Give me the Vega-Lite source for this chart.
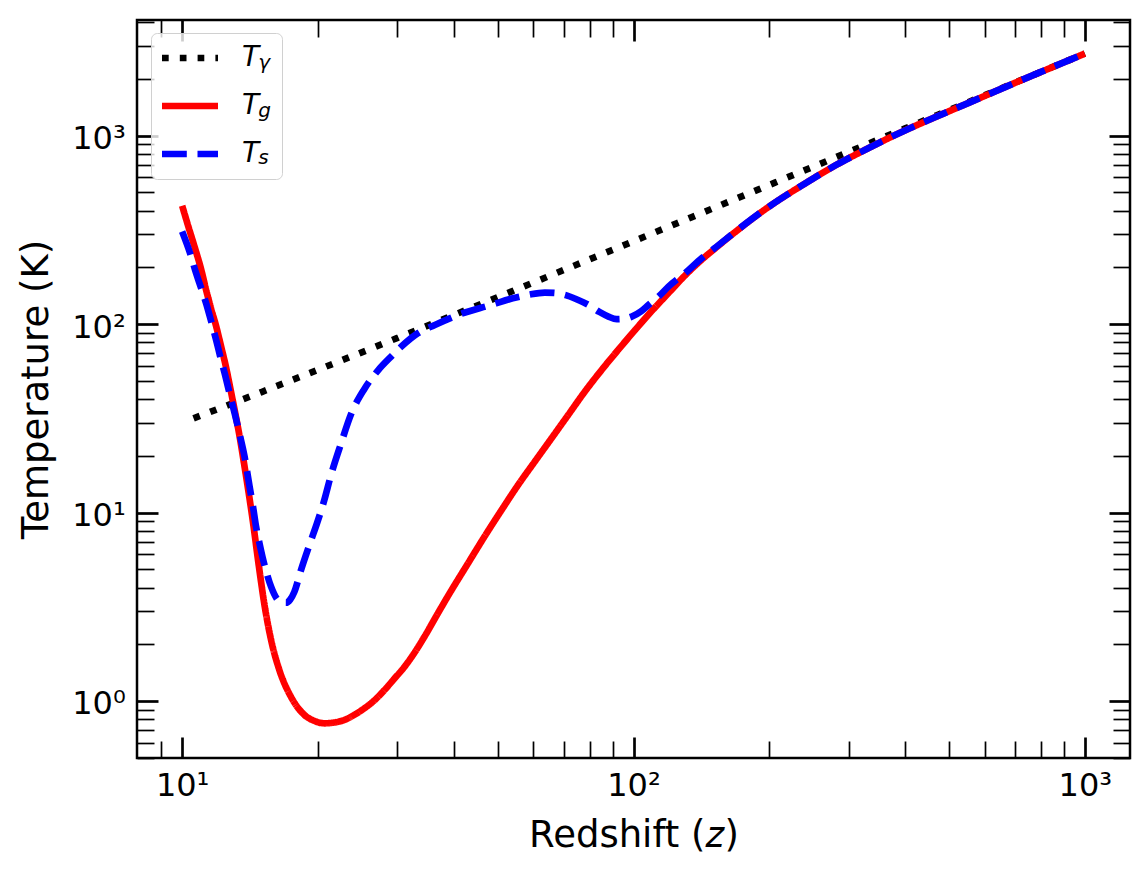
{
  "$schema": "https://vega.github.io/schema/vega-lite/v6.json",
  "width": 993,
  "height": 738,
  "autosize": {"type": "none"},
  "padding": {"left": 137, "top": 20, "right": 18, "bottom": 115},
  "background": "white",
  "config": {
    "view": {"stroke": "black", "strokeWidth": 2.5},
    "font": "DejaVu Sans",
    "axis": {"domain": false, "grid": false, "tickColor": "black", "labelColor": "black", "titleColor": "black", "labelFont": "DejaVu Sans", "titleFont": "DejaVu Sans", "labelFlush": false, "labelOverlap": false, "titleFontWeight": "normal"}
  },
  "datasets": {
    "tgamma": [
      {"z": 10.6, "T": 31.61, "series": "Tγ", "sub": "γ"},
      {"z": 12, "T": 35.43, "series": "Tγ", "sub": "γ"},
      {"z": 15, "T": 43.6, "series": "Tγ", "sub": "γ"},
      {"z": 20, "T": 57.23, "series": "Tγ", "sub": "γ"},
      {"z": 25, "T": 70.85, "series": "Tγ", "sub": "γ"},
      {"z": 30, "T": 84.48, "series": "Tγ", "sub": "γ"},
      {"z": 40, "T": 111.73, "series": "Tγ", "sub": "γ"},
      {"z": 50, "T": 138.98, "series": "Tγ", "sub": "γ"},
      {"z": 70, "T": 193.48, "series": "Tγ", "sub": "γ"},
      {"z": 100, "T": 275.23, "series": "Tγ", "sub": "γ"},
      {"z": 150, "T": 411.48, "series": "Tγ", "sub": "γ"},
      {"z": 200, "T": 547.73, "series": "Tγ", "sub": "γ"},
      {"z": 300, "T": 820.23, "series": "Tγ", "sub": "γ"},
      {"z": 400, "T": 1092.73, "series": "Tγ", "sub": "γ"},
      {"z": 500, "T": 1365.23, "series": "Tγ", "sub": "γ"},
      {"z": 700, "T": 1910.23, "series": "Tγ", "sub": "γ"},
      {"z": 1000, "T": 2727.73, "series": "Tγ", "sub": "γ"}
    ],
    "tg": [
      {"z": 10, "T": 425, "series": "Tg"},
      {"z": 10.3, "T": 335, "series": "Tg"},
      {"z": 10.65, "T": 258, "series": "Tg"},
      {"z": 11, "T": 198, "series": "Tg"},
      {"z": 11.3, "T": 152, "series": "Tg"},
      {"z": 11.6, "T": 120, "series": "Tg"},
      {"z": 11.9, "T": 97, "series": "Tg"},
      {"z": 12.2, "T": 76, "series": "Tg"},
      {"z": 12.5, "T": 59.5, "series": "Tg"},
      {"z": 12.8, "T": 45, "series": "Tg"},
      {"z": 13.07, "T": 35, "series": "Tg"},
      {"z": 13.4, "T": 25.5, "series": "Tg"},
      {"z": 13.75, "T": 17.5, "series": "Tg"},
      {"z": 14.05, "T": 12.6, "series": "Tg"},
      {"z": 14.33, "T": 9.14, "series": "Tg"},
      {"z": 14.83, "T": 4.96, "series": "Tg"},
      {"z": 15.2, "T": 3.3, "series": "Tg"},
      {"z": 15.74, "T": 2.11, "series": "Tg"},
      {"z": 16.42, "T": 1.46, "series": "Tg"},
      {"z": 17.43, "T": 1.05, "series": "Tg"},
      {"z": 18.66, "T": 0.843, "series": "Tg"},
      {"z": 19.6, "T": 0.785, "series": "Tg"},
      {"z": 20.66, "T": 0.761, "series": "Tg"},
      {"z": 21.7, "T": 0.768, "series": "Tg"},
      {"z": 22.89, "T": 0.793, "series": "Tg"},
      {"z": 24.1, "T": 0.845, "series": "Tg"},
      {"z": 25.35, "T": 0.915, "series": "Tg"},
      {"z": 26.7, "T": 1.01, "series": "Tg"},
      {"z": 28.08, "T": 1.144, "series": "Tg"},
      {"z": 29.5, "T": 1.31, "series": "Tg"},
      {"z": 31.1, "T": 1.52, "series": "Tg"},
      {"z": 32.7, "T": 1.8, "series": "Tg"},
      {"z": 34.45, "T": 2.2, "series": "Tg"},
      {"z": 36.5, "T": 2.8, "series": "Tg"},
      {"z": 38.8, "T": 3.6, "series": "Tg"},
      {"z": 43, "T": 5.38, "series": "Tg"},
      {"z": 47, "T": 7.6, "series": "Tg"},
      {"z": 51, "T": 10.3, "series": "Tg"},
      {"z": 55.5, "T": 14, "series": "Tg"},
      {"z": 60.4, "T": 18.6, "series": "Tg"},
      {"z": 66, "T": 25, "series": "Tg"},
      {"z": 71.7, "T": 33, "series": "Tg"},
      {"z": 78, "T": 43.8, "series": "Tg"},
      {"z": 85, "T": 57.1, "series": "Tg"},
      {"z": 92.5, "T": 73, "series": "Tg"},
      {"z": 100.8, "T": 93, "series": "Tg"},
      {"z": 110, "T": 118, "series": "Tg"},
      {"z": 119.5, "T": 146, "series": "Tg"},
      {"z": 130, "T": 181, "series": "Tg"},
      {"z": 141.7, "T": 220, "series": "Tg"},
      {"z": 151, "T": 250, "series": "Tg"},
      {"z": 168, "T": 308, "series": "Tg"},
      {"z": 199, "T": 418, "series": "Tg"},
      {"z": 236, "T": 544, "series": "Tg"},
      {"z": 280, "T": 695, "series": "Tg"},
      {"z": 332, "T": 860, "series": "Tg"},
      {"z": 394, "T": 1050, "series": "Tg"},
      {"z": 460, "T": 1237, "series": "Tg"},
      {"z": 553, "T": 1494, "series": "Tg"},
      {"z": 700, "T": 1906, "series": "Tg"},
      {"z": 850, "T": 2317, "series": "Tg"},
      {"z": 1000, "T": 2727, "series": "Tg"}
    ],
    "ts": [
      {"z": 10, "T": 310, "series": "Ts"},
      {"z": 10.4, "T": 240, "series": "Ts"},
      {"z": 10.74, "T": 186, "series": "Ts"},
      {"z": 11, "T": 157, "series": "Ts"},
      {"z": 11.3, "T": 129, "series": "Ts"},
      {"z": 11.6, "T": 103, "series": "Ts"},
      {"z": 11.9, "T": 82, "series": "Ts"},
      {"z": 12.15, "T": 67, "series": "Ts"},
      {"z": 12.42, "T": 54.9, "series": "Ts"},
      {"z": 12.75, "T": 42.5, "series": "Ts"},
      {"z": 13.07, "T": 33.7, "series": "Ts"},
      {"z": 13.4, "T": 26.2, "series": "Ts"},
      {"z": 13.75, "T": 19.8, "series": "Ts"},
      {"z": 14.1, "T": 13.8, "series": "Ts"},
      {"z": 14.35, "T": 10.8, "series": "Ts"},
      {"z": 14.58, "T": 8.42, "series": "Ts"},
      {"z": 14.83, "T": 6.9, "series": "Ts"},
      {"z": 15.09, "T": 5.72, "series": "Ts"},
      {"z": 15.4, "T": 4.75, "series": "Ts"},
      {"z": 15.74, "T": 4.04, "series": "Ts"},
      {"z": 16.28, "T": 3.44, "series": "Ts"},
      {"z": 16.6, "T": 3.33, "series": "Ts"},
      {"z": 17, "T": 3.32, "series": "Ts"},
      {"z": 17.35, "T": 3.45, "series": "Ts"},
      {"z": 17.73, "T": 3.8, "series": "Ts"},
      {"z": 18.34, "T": 4.96, "series": "Ts"},
      {"z": 19.14, "T": 6.73, "series": "Ts"},
      {"z": 19.9, "T": 8.78, "series": "Ts"},
      {"z": 20.6, "T": 11.4, "series": "Ts"},
      {"z": 21.4, "T": 16, "series": "Ts"},
      {"z": 22.5, "T": 23.3, "series": "Ts"},
      {"z": 23.7, "T": 33.5, "series": "Ts"},
      {"z": 25.3, "T": 45, "series": "Ts"},
      {"z": 27.2, "T": 57, "series": "Ts"},
      {"z": 29, "T": 67, "series": "Ts"},
      {"z": 30.6, "T": 76, "series": "Ts"},
      {"z": 33.3, "T": 89.5, "series": "Ts"},
      {"z": 36.3, "T": 99, "series": "Ts"},
      {"z": 40.9, "T": 111.9, "series": "Ts"},
      {"z": 48.4, "T": 126.5, "series": "Ts"},
      {"z": 54, "T": 137, "series": "Ts"},
      {"z": 58.4, "T": 142.9, "series": "Ts"},
      {"z": 63.6, "T": 147, "series": "Ts"},
      {"z": 67.5, "T": 146, "series": "Ts"},
      {"z": 70.5, "T": 142.9, "series": "Ts"},
      {"z": 75, "T": 135, "series": "Ts"},
      {"z": 79.4, "T": 126.5, "series": "Ts"},
      {"z": 84, "T": 116, "series": "Ts"},
      {"z": 88, "T": 109.6, "series": "Ts"},
      {"z": 91.8, "T": 106.2, "series": "Ts"},
      {"z": 95.5, "T": 106.8, "series": "Ts"},
      {"z": 99.1, "T": 109.6, "series": "Ts"},
      {"z": 104, "T": 117, "series": "Ts"},
      {"z": 108, "T": 126.5, "series": "Ts"},
      {"z": 114, "T": 141, "series": "Ts"},
      {"z": 119.5, "T": 158, "series": "Ts"},
      {"z": 130, "T": 186, "series": "Ts"},
      {"z": 141.7, "T": 224, "series": "Ts"},
      {"z": 151, "T": 252, "series": "Ts"},
      {"z": 168, "T": 309, "series": "Ts"},
      {"z": 199, "T": 418, "series": "Ts"},
      {"z": 236, "T": 544, "series": "Ts"},
      {"z": 280, "T": 695, "series": "Ts"},
      {"z": 332, "T": 860, "series": "Ts"},
      {"z": 394, "T": 1050, "series": "Ts"},
      {"z": 460, "T": 1237, "series": "Ts"},
      {"z": 553, "T": 1494, "series": "Ts"},
      {"z": 700, "T": 1906, "series": "Ts"},
      {"z": 850, "T": 2317, "series": "Ts"},
      {"z": 1000, "T": 2727, "series": "Ts"}
    ]
  },
  "layer": [
    {
      "data": {"name": "tgamma"},
      "mark": {"type": "line", "strokeWidth": 6.7, "strokeCap": "butt", "strokeJoin": "round", "interpolate": "monotone"},
      "encoding": {
        "x": {"field": "z", "type": "quantitative", "scale": {"type": "log", "domain": [7.943, 1258.9], "nice": false, "zero": false},
          "axis": {"orient": "bottom", "values": [10, 100, 1000], "tickSize": -21, "tickWidth": 2.7, "labelFontSize": 32, "labelPadding": 33,
            "labelExpr": "datum.value == 10 ? '10¹' : datum.value == 100 ? '10²' : '10³'",
            "title": "Redshift (𝑧)", "titleFontSize": 37, "titleX": 496.5, "titleY": 88, "titleBaseline": "alphabetic", "titleAlign": "center"}},
        "y": {"field": "T", "type": "quantitative", "scale": {"type": "log", "domain": [0.498, 4110], "nice": false, "zero": false},
          "axis": {"orient": "left", "values": [1, 10, 100, 1000], "tickSize": -21, "tickWidth": 2.7, "labelFontSize": 32, "labelPadding": 32.7, "labelOffset": 3,
            "labelExpr": "datum.value == 1 ? '10⁰' : datum.value == 10 ? '10¹' : datum.value == 100 ? '10²' : '10³'",
            "title": "Temperature (K)", "titleFontSize": 37, "titleAngle": 270, "titleX": -90, "titleY": 369, "titleBaseline": "alphabetic", "titleAlign": "center"}},
        "color": {"field": "series", "type": "nominal", "scale": {"domain": ["Tγ", "Tg", "Ts"], "range": ["black", "#ff0000", "#0000ff"]},
          "legend": {"orient": "none", "legendX": 21.5, "legendY": 6.5, "zindex": 1, "title": null, "symbolType": "stroke", "symbolSize": 3136, "symbolStrokeWidth": 6.7,
            "labelExpr": "'T'", "labelFont": "DejaVu Sans", "labelFontStyle": "italic", "labelFontSize": 28, "labelColor": "black", "labelOffset": 20.5,
            "rowPadding": 2, "padding": 0}},
        "strokeDash": {"field": "series", "type": "nominal", "scale": {"domain": ["Tγ", "Tg", "Ts"], "range": [[6.7, 11.1], [1, 0], [24.8, 10.7]]},
          "legend": {"orient": "none", "legendX": 21.5, "legendY": 6.5, "zindex": 1, "title": null, "symbolType": "stroke", "symbolSize": 3136, "symbolStrokeWidth": 6.7,
            "labelExpr": "'T'", "labelFont": "DejaVu Sans", "labelFontStyle": "italic", "labelFontSize": 28, "labelColor": "black", "labelOffset": 20.5,
            "rowPadding": 2, "padding": 0}}
      }
    },
    {
      "data": {"name": "tg"},
      "mark": {"type": "line", "strokeWidth": 6.7, "strokeCap": "butt", "strokeJoin": "round", "interpolate": "monotone"},
      "encoding": {
        "x": {"field": "z", "type": "quantitative", "axis": {"orient": "top", "values": [10, 100, 1000], "tickSize": -21, "tickWidth": 2.7, "labels": false, "title": null}},
        "y": {"field": "T", "type": "quantitative", "axis": {"orient": "right", "values": [1, 10, 100, 1000], "tickSize": -21, "tickWidth": 2.7, "labels": false, "title": null}},
        "color": {"field": "series", "type": "nominal"},
        "strokeDash": {"field": "series", "type": "nominal"}
      }
    },
    {
      "data": {"name": "ts"},
      "mark": {"type": "line", "strokeWidth": 6.7, "strokeCap": "butt", "strokeJoin": "round", "interpolate": "monotone"},
      "encoding": {
        "x": {"field": "z", "type": "quantitative", "axis": {"orient": "bottom", "values": [9, 20, 30, 40, 50, 60, 70, 80, 90, 200, 300, 400, 500, 600, 700, 800, 900], "tickSize": -17, "tickWidth": 1.7, "labels": false, "title": null}},
        "y": {"field": "T", "type": "quantitative", "axis": {"orient": "left", "values": [0.5, 0.6, 0.7, 0.8, 0.9, 2, 3, 4, 5, 6, 7, 8, 9, 20, 30, 40, 50, 60, 70, 80, 90, 200, 300, 400, 500, 600, 700, 800, 900, 2000, 3000, 4000], "tickSize": -17, "tickWidth": 1.7, "labels": false, "title": null}},
        "color": {"field": "series", "type": "nominal"},
        "strokeDash": {"field": "series", "type": "nominal"}
      }
    },
    {
      "data": {"name": "tgamma"},
      "mark": {"type": "line", "strokeWidth": 1, "strokeOpacity": 0, "stroke": "transparent"},
      "encoding": {
        "x": {"field": "z", "type": "quantitative", "axis": {"orient": "top", "values": [9, 20, 30, 40, 50, 60, 70, 80, 90, 200, 300, 400, 500, 600, 700, 800, 900], "tickSize": -17, "tickWidth": 1.7, "labels": false, "title": null}},
        "y": {"field": "T", "type": "quantitative", "axis": {"orient": "right", "values": [0.5, 0.6, 0.7, 0.8, 0.9, 2, 3, 4, 5, 6, 7, 8, 9, 20, 30, 40, 50, 60, 70, 80, 90, 200, 300, 400, 500, 600, 700, 800, 900, 2000, 3000, 4000], "tickSize": -17, "tickWidth": 1.7, "labels": false, "title": null}},
        "opacity": {"field": "sub", "type": "nominal", "scale": {"domain": ["γ", "g", "s"], "range": [1, 1, 1]},
          "legend": {"orient": "none", "legendX": 14, "legendY": 13, "zindex": 0, "title": " ", "titleFontSize": 1, "titlePadding": 8.3,
            "symbolType": "stroke", "symbolSize": 0, "symbolStrokeWidth": 0,
            "labelFont": "DejaVu Sans", "labelFontStyle": "italic", "labelFontSize": 20, "labelColor": "black", "labelOffset": 76.5,
            "rowPadding": 27.5, "padding": 10.7, "strokeColor": "#d0d0d0", "fillColor": "rgba(255,255,255,0.8)", "cornerRadius": 6,
            "encode": {"legend": {"strokeWidth": {"value": 2}}}}}
      }
    }
  ],
  "resolve": {"axis": {"x": "independent", "y": "independent"}}
}
